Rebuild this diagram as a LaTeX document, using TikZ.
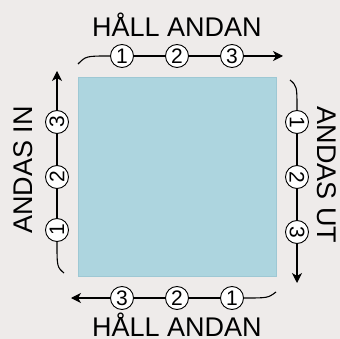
\documentclass[tikz,border=0pt]{standalone}
\usepackage{fontspec}
\setmainfont{Liberation Sans}
\usetikzlibrary{arrows.meta}
\definecolor{bgcol}{RGB}{238,235,234}
\definecolor{boxfill}{RGB}{173,213,223}
\definecolor{boxedge}{RGB}{158,200,212}

\begin{document}
\begin{tikzpicture}[x=1pt,y=-1pt,
  num/.style={circle,draw,fill=white,line width=0.9pt,inner sep=0pt,minimum size=23pt,font=\fontsize{21}{21}\selectfont},
  lbl/.style={font=\fontsize{27}{27}\selectfont},
  flow/.style={line width=1.1pt},
  flowtip/.style={line width=1.1pt,-{Stealth[length=10pt,width=10pt,inset=3pt]}}]
  \fill[bgcol] (0,0) rectangle (340,339);
  \useasboundingbox (0,0) rectangle (340,339);
  \draw[boxedge,fill=boxfill,line width=1pt] (78,78) rectangle (276,276);
  % top
  \coordinate (t0) at (78,64);
  \coordinate (t4) at (283,56);
  \node[num] (t1) at (122,56) {1};
  \node[num] (t2) at (177,56) {2};
  \node[num] (t3) at (232,56) {3};
  \draw[flow] (t0) .. controls (86,56) .. (t1);
  \draw[flow] (t1) -- (t2) (t2) -- (t3);
  \draw[flowtip] (t3) -- (t4);
  \node[lbl,anchor=base] (ttop) at (177,37) {HÅLL ANDAN};
  % right
  \coordinate (r0) at (290,80);
  \coordinate (r4) at (297,283);
  \node[num,rotate=-90] (r1) at (297,122) {1};
  \node[num,rotate=-90] (r2) at (297,177) {2};
  \node[num,rotate=-90] (r3) at (297,232) {3};
  \draw[flow] (r0) .. controls (297,86) .. (r1);
  \draw[flow] (r1) -- (r2) (r2) -- (r3);
  \draw[flowtip] (r3) -- (r4);
  \node[lbl,rotate=-90] (tright) at (327,175) {ANDAS UT};
  % bottom
  \coordinate (b0) at (276,292);
  \coordinate (b4) at (71,298);
  \node[num] (b1) at (232,298) {1};
  \node[num] (b2) at (177,298) {2};
  \node[num] (b3) at (122,298) {3};
  \draw[flow] (b0) .. controls (268,298) .. (b1);
  \draw[flow] (b1) -- (b2) (b2) -- (b3);
  \draw[flowtip] (b3) -- (b4);
  \node[lbl,anchor=base] (tbottom) at (177,336) {HÅLL ANDAN};
  % left
  \coordinate (l0) at (64,273);
  \coordinate (l4) at (57,71);
  \node[num,rotate=90] (l1) at (57,230) {1};
  \node[num,rotate=90] (l2) at (57,177) {2};
  \node[num,rotate=90] (l3) at (57,122) {3};
  \draw[flow] (l0) .. controls (57,267) .. (l1);
  \draw[flow] (l1) -- (l2) (l2) -- (l3);
  \draw[flowtip] (l3) -- (l4);
  \node[lbl,rotate=90] (tleft) at (23,170) {ANDAS IN};
\end{tikzpicture}
\end{document}
